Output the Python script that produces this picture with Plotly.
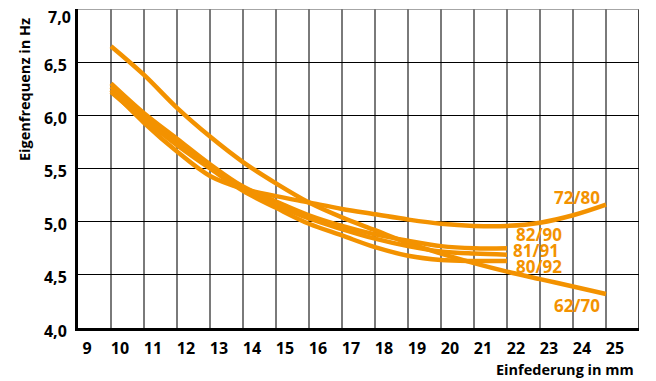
import plotly.graph_objects as go

# ---- data ----
x_long = [10, 11, 12, 13, 14, 15, 16, 17, 18, 19, 20, 21, 22, 23, 24, 25]
x_short = [10, 11, 12, 13, 14, 15, 16, 17, 18, 19, 20, 21, 22]

y_62_70 = [6.65, 6.38, 6.07, 5.80, 5.56, 5.36, 5.18, 5.04, 4.92, 4.80, 4.70, 4.61, 4.53, 4.46, 4.39, 4.32]
y_72_80 = [6.24, 5.93, 5.66, 5.43, 5.31, 5.24, 5.18, 5.12, 5.07, 5.02, 4.98, 4.96, 4.96, 4.99, 5.06, 5.16]
y_82_90 = [6.30, 6.02, 5.78, 5.54, 5.33, 5.19, 5.06, 4.96, 4.88, 4.82, 4.77, 4.75, 4.75]
y_81_91 = [6.27, 5.99, 5.75, 5.51, 5.31, 5.16, 5.03, 4.93, 4.84, 4.77, 4.72, 4.70, 4.69]
y_80_92 = [6.22, 5.96, 5.72, 5.50, 5.29, 5.13, 4.98, 4.87, 4.76, 4.68, 4.64, 4.63, 4.63]

series_names = ["62/70", "72/80", "82/90", "81/91", "80/92"]

x_ticks = list(range(9, 26))
x_ticktext = [str(v) for v in x_ticks]
y_ticks = [4.0, 4.5, 5.0, 5.5, 6.0, 6.5]
y_ticktext = ["4,0", "4,5", "5,0", "5,5", "6,0", "6,5"]

# label positions (data coords)
label_pos = {
    "72/80": (24.12, 5.23),
    "82/90": (22.97, 4.875),
    "81/91": (22.88, 4.725),
    "80/92": (22.97, 4.575),
    "62/70": (24.12, 4.21),
}

ORANGE = "#F39200"
FONT = "Open Sans"

fig = go.Figure()
series = [
    (x_long, y_62_70),
    (x_long, y_72_80),
    (x_short, y_82_90),
    (x_short, y_81_91),
    (x_short, y_80_92),
]
for name, (xs, ys) in zip(series_names, series):
    fig.add_trace(go.Scatter(x=xs, y=ys, mode="lines", name=name,
                             line=dict(color=ORANGE, width=4.5, shape="spline", smoothing=1),
                             showlegend=False, hoverinfo="skip"))

annotations = []
for name in series_names:
    lx, ly = label_pos[name]
    annotations.append(dict(x=lx, y=ly, xref="x", yref="y", text="<b>%s</b>" % name,
                            showarrow=False, font=dict(family=FONT, size=17, color=ORANGE),
                            xanchor="center", yanchor="middle"))

# top y label 7,0
annotations.append(dict(x=0, y=7.0, xref="paper", yref="y", text="<b>7,0</b>", showarrow=False,
                        xanchor="right", yanchor="middle", xshift=-5, yshift=-8,
                        font=dict(family=FONT, size=16, color="black")))
# axis titles
annotations.append(dict(x=-54 / 561, y=(327 - 89) / 319, xref="paper", yref="paper",
                        text="<b>Eigenfrequenz in Hz</b>", textangle=-90, showarrow=False,
                        xanchor="center", yanchor="middle",
                        font=dict(family=FONT, size=14.5, color="black")))
annotations.append(dict(x=(636 - 78) / 561, y=(327 - 368) / 319, xref="paper", yref="paper",
                        text="<b>Einfederung in mm</b>", showarrow=False,
                        xanchor="right", yanchor="middle",
                        font=dict(family=FONT, size=14.5, color="black")))

shapes = [
    dict(type="line", xref="x", yref="y", x0=26, x1=26, y0=4.0, y1=7.0,
         line=dict(color="black", width=1.5), layer="below"),
    dict(type="line", xref="x", yref="y", x0=9, x1=26, y0=7.0, y1=7.0,
         line=dict(color="#888888", width=1.5), layer="below"),
]

# the page body adds an 8px offset, so the figure is sized to compensate
fig.update_layout(
    width=648, height=373,
    margin=dict(l=70, r=17, t=1, b=53),
    paper_bgcolor="white", plot_bgcolor="white",
    annotations=annotations, shapes=shapes,
    font=dict(family=FONT, color="black"),
    xaxis=dict(range=[9, 26], tickvals=x_ticks, ticktext=["<b>%s</b>" % t for t in x_ticktext],
               showgrid=True, gridcolor="#7a7a7a", gridwidth=2,
               showline=True, linecolor="black", linewidth=3,
               ticks="outside", ticklen=4, tickcolor="rgba(0,0,0,0)",
               ticklabelshift=9, tickfont=dict(family=FONT, size=16, color="black"),
               zeroline=False, fixedrange=True),
    yaxis=dict(range=[4.0, 7.0], tickvals=y_ticks, ticktext=["<b>%s</b>" % t for t in y_ticktext],
               showgrid=True, gridcolor="black", gridwidth=1.2,
               showline=True, linecolor="black", linewidth=3,
               ticks="outside", ticklen=5, tickcolor="rgba(0,0,0,0)",
               ticklabelshift=3, tickfont=dict(family=FONT, size=16, color="black"),
               zeroline=False, fixedrange=True),
)

fig.write_html("out.html")
